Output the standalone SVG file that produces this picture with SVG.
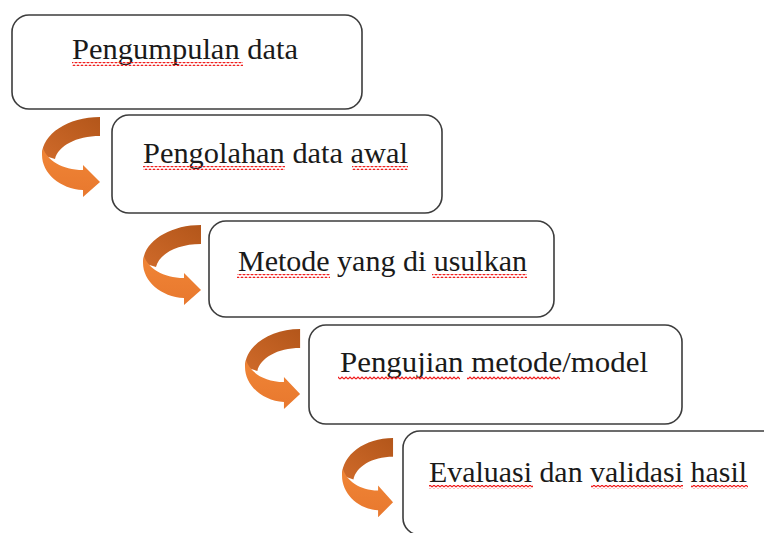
<svg xmlns="http://www.w3.org/2000/svg" xmlns:xlink="http://www.w3.org/1999/xlink" width="764" height="533" viewBox="0 0 764 533">
<style>
.box{fill:#fff;stroke:#3c3c3c;stroke-width:1.6}
.lbl{font-family:"Liberation Serif","DejaVu Serif",serif;font-size:30px;fill:#1a1a1a}
.sq{fill:url(#squig)}
</style>
<defs>
<pattern id="squig" patternUnits="userSpaceOnUse" width="4" height="4">
<path d="M0,3 L2,1 L4,3" fill="none" stroke="#f01818" stroke-width="1.2"/>
</pattern>
<linearGradient id="gDark" x1="1" y1="0" x2="0" y2="1">
<stop offset="0" stop-color="#b3561a"/>
<stop offset="1" stop-color="#cf6a2a"/>
</linearGradient>
<linearGradient id="gLight" x1="0" y1="0" x2="0" y2="1">
<stop offset="0" stop-color="#f08536"/>
<stop offset="1" stop-color="#e8782e"/>
</linearGradient>
<g id="carrow">
<path d="M58,0 C26,0 0,17 0,38 L13,42 C16,29 34,19 58,19 Z" fill="url(#gDark)"/>
<path d="M1,31 C5,43 20,53 41,53 L41,48 L58,65 L41,80 L41,73 C18,72 0,56 0,38 Z" fill="url(#gLight)"/>
</g>
</defs>
<g id="connectors">
<use xlink:href="#carrow" transform="translate(42,117)"/>
<use xlink:href="#carrow" transform="translate(143,225)"/>
<use xlink:href="#carrow" transform="translate(245,329) scale(0.95,1)"/>
<use xlink:href="#carrow" transform="translate(342,438) scale(0.88,0.99)"/>
</g>
<g id="node1">
<rect class="box" x="12" y="15" width="350" height="94" rx="17"/>
<text class="lbl" x="72" y="59" textLength="226" lengthAdjust="spacingAndGlyphs">Pengumpulan data</text>
<rect class="sq" x="72" y="62" width="171" height="4"/>
</g>
<g id="node2">
<rect class="box" x="112" y="115" width="330" height="98" rx="17"/>
<text class="lbl" x="143" y="163" textLength="265" lengthAdjust="spacingAndGlyphs">Pengolahan data awal</text>
<rect class="sq" x="143" y="166" width="142" height="4"/>
<rect class="sq" x="352" y="166" width="56" height="4"/>
</g>
<g id="node3">
<rect class="box" x="209" y="221" width="345" height="96" rx="17"/>
<text class="lbl" x="238" y="271" textLength="289" lengthAdjust="spacingAndGlyphs">Metode yang di usulkan</text>
<rect class="sq" x="237" y="274" width="93" height="4"/>
<rect class="sq" x="432" y="274" width="95" height="4"/>
</g>
<g id="node4">
<rect class="box" x="309" y="325" width="373" height="99" rx="17"/>
<text class="lbl" x="340" y="372" textLength="308" lengthAdjust="spacingAndGlyphs">Pengujian metode/model</text>
<rect class="sq" x="338" y="376" width="122" height="4"/>
<rect class="sq" x="467" y="376" width="93" height="4"/>
</g>
<g id="node5">
<rect class="box" x="403" y="431" width="380" height="104" rx="17"/>
<text class="lbl" x="429" y="482" textLength="318" lengthAdjust="spacingAndGlyphs">Evaluasi dan validasi hasil</text>
<rect class="sq" x="429" y="485" width="104" height="4"/>
<rect class="sq" x="591" y="485" width="92" height="4"/>
<rect class="sq" x="691" y="485" width="57" height="4"/>
</g>
</svg>
